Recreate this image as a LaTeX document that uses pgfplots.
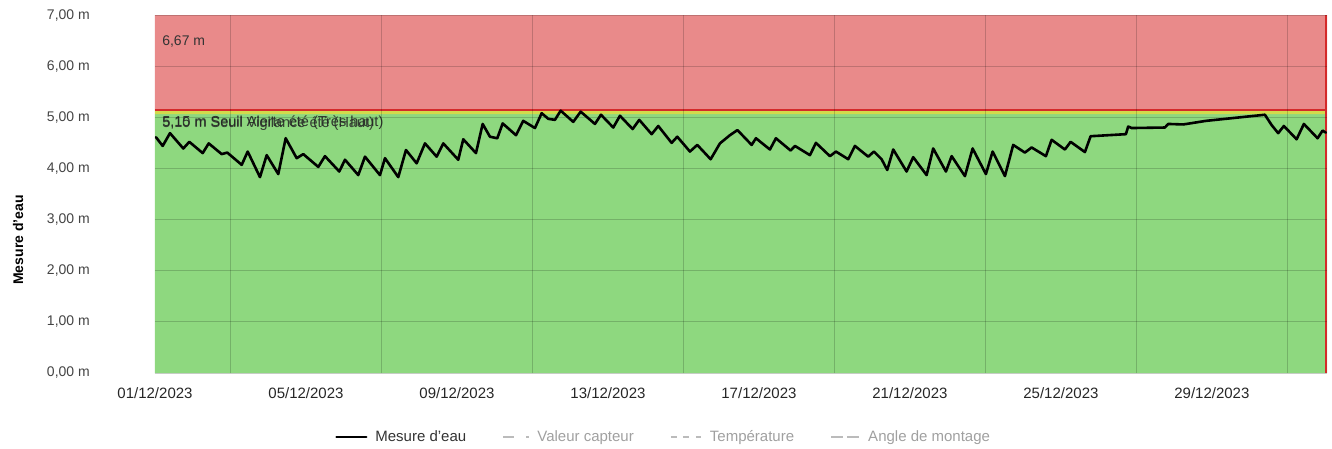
\documentclass[border=0pt]{standalone}
\usepackage{pgfplots}
\pgfplotsset{compat=1.18}
\usepackage{fontspec}
\setmainfont{Liberation Sans}
\definecolor{bandred}{HTML}{E98A8A}
\definecolor{bandgreen}{HTML}{8ED87F}
\definecolor{bandyellow}{HTML}{D2DA4C}
\definecolor{alertred}{HTML}{D42A2A}
\definecolor{txt}{HTML}{444444}
\definecolor{leggray}{HTML}{BBBBBB}
\definecolor{legtxt}{HTML}{A0A0A0}

\begin{document}
\begin{tikzpicture}
\begin{axis}[
  axis on top,
  at={(0pt,0pt)}, anchor=south west,
  scale only axis, width=1172pt, height=358pt,
  xmin=0, xmax=31.05, ymin=0, ymax=7,
  axis line style={draw=none},
  xtick={0,4,...,28},
  xticklabels={01/12/2023,05/12/2023,09/12/2023,13/12/2023,17/12/2023,21/12/2023,25/12/2023,29/12/2023},
  minor xtick={2,6,...,30},
  ytick={0,1,...,7},
  yticklabels={{0,00 m},{1,00 m},{2,00 m},{3,00 m},{4,00 m},{5,00 m},{6,00 m},{7,00 m}},
  xmajorgrids=false, xminorgrids=true, ymajorgrids=true,
  major tick length=0pt, minor tick length=0pt,
  grid style={black, opacity=0.18, line width=0.8pt},
  minor grid style={black, opacity=0.18, line width=0.8pt},
  xticklabel style={font=\fontsize{15}{17}\selectfont, text=black!85, anchor=north, inner sep=0pt, yshift=-14pt},
  yticklabel style={font=\fontsize{14}{16}\selectfont, text=txt, anchor=east, inner sep=0pt, xshift=-65pt},
  legend columns=4,
  legend style={at={(axis description cs:0.434,-0.179)}, anchor=center, draw=none, fill=none,
    font=\fontsize{15}{17}\selectfont,
    /tikz/every even column/.append style={column sep=34pt}},
  legend cell align=left,
]
% bands
\addplot[fill=bandgreen, draw=none, forget plot]
  coordinates {(0,0) (31.05,0) (31.05,5.06) (0,5.06) (0,0)};
\addplot[fill=bandyellow, draw=none, forget plot]
  coordinates {(0,5.06) (31.05,5.06) (31.05,5.15) (0,5.15) (0,5.06)};
\addplot[fill=bandred, draw=none, forget plot]
  coordinates {(0,5.15) (31.05,5.15) (31.05,7) (0,7) (0,5.15)};
% threshold lines
\addplot[alertred, line width=1.8pt, forget plot] coordinates {(0,5.15) (31.05,5.15)};
\addplot[alertred, line width=2pt, forget plot] coordinates {(31.02,0) (31.02,7)};
% labels
\node[anchor=west, text=black!80, font=\fontsize{14}{16}\selectfont] at (axis cs:0.1,6.49) {6,67 m};
\node[anchor=west, text=black!85, opacity=0.9, font=\fontsize{14.5}{16}\selectfont] at (axis cs:0.1,4.90) {5,15 m Seuil Alerte été (Très haut)};
\node[anchor=west, text=black!85, opacity=0.85, font=\fontsize{14.5}{16}\selectfont] at (axis cs:0.1,4.88) {5,10 m Seuil Vigilance été (Haut)};
% data
\addplot[black, line width=2.6pt, line join=round, line cap=round,
  legend image code/.code={\draw[black, line width=2.2pt] (0pt,0pt) -- (30pt,0pt); \path[draw=none] (0pt,0pt) -- (37pt,0pt);}] coordinates {
(0.026,4.61)(0.204,4.44)(0.397,4.69)(0.750,4.39)(0.909,4.52)(1.264,4.30)(1.423,4.49)(1.767,4.28)(1.915,4.31)(2.297,4.07)(2.456,4.33)(2.781,3.83)(2.959,4.26)(3.266,3.89)(3.462,4.59)(3.754,4.20)(3.928,4.28)(4.326,4.03)(4.503,4.24)(4.882,3.94)(5.033,4.17)(5.385,3.87)(5.563,4.23)(5.960,3.87)(6.093,4.20)(6.445,3.83)(6.649,4.36)(6.932,4.10)(7.152,4.49)(7.462,4.23)(7.637,4.49)(8.034,4.17)(8.167,4.57)(8.503,4.30)(8.681,4.87)(8.874,4.62)(9.068,4.59)(9.211,4.88)(9.563,4.65)(9.756,4.93)(10.066,4.79)(10.244,5.08)(10.419,4.97)(10.596,4.95)(10.747,5.13)(11.081,4.91)(11.277,5.11)(11.656,4.87)(11.815,5.05)(12.141,4.80)(12.318,5.03)(12.654,4.77)(12.829,4.95)(13.158,4.67)(13.333,4.83)(13.687,4.50)(13.836,4.62)(14.172,4.33)(14.366,4.46)(14.721,4.18)(14.967,4.49)(15.232,4.65)(15.430,4.75)(15.807,4.46)(15.921,4.59)(16.291,4.37)(16.450,4.59)(16.840,4.35)(16.954,4.44)(17.351,4.26)(17.510,4.50)(17.881,4.24)(18.040,4.33)(18.366,4.18)(18.543,4.44)(18.895,4.23)(19.046,4.33)(19.250,4.18)(19.399,3.97)(19.558,4.37)(19.912,3.94)(20.087,4.22)(20.442,3.87)(20.617,4.39)(20.954,3.94)(21.105,4.24)(21.457,3.85)(21.661,4.39)(22.013,3.89)(22.191,4.33)(22.517,3.85)(22.736,4.46)(23.046,4.31)(23.224,4.41)(23.603,4.24)(23.754,4.56)(24.106,4.37)(24.257,4.52)(24.636,4.32)(24.787,4.63)(25.722,4.67)(25.783,4.82)(25.873,4.79)(26.755,4.80)(26.843,4.87)(27.240,4.86)(27.841,4.93)(29.404,5.05)(29.581,4.85)(29.756,4.69)(29.907,4.83)(30.244,4.57)(30.437,4.87)(30.800,4.59)(30.932,4.74)(31.019,4.70)
};
\addlegendentry[text=black!80]{Mesure d'eau}
\addlegendimage{legend image code/.code={\draw[leggray, line width=2.2pt] (0pt,0pt) -- (11pt,0pt); \draw[leggray, line width=2.2pt] (23pt,0pt) -- (26pt,0pt); \path[draw=none] (0pt,0pt) -- (32pt,0pt);}}
\addlegendentry[text=legtxt]{Valeur capteur}
\addlegendimage{legend image code/.code={\draw[leggray, line width=2.2pt] (0pt,0pt) -- (6pt,0pt); \draw[leggray, line width=2.2pt] (12pt,0pt) -- (18pt,0pt); \draw[leggray, line width=2.2pt] (25pt,0pt) -- (30pt,0pt); \path[draw=none] (0pt,0pt) -- (37pt,0pt);}}
\addlegendentry[text=legtxt]{Température}
\addlegendimage{legend image code/.code={\draw[leggray, line width=2.2pt] (0pt,0pt) -- (12pt,0pt); \draw[leggray, line width=2.2pt] (16pt,0pt) -- (28pt,0pt); \path[draw=none] (0pt,0pt) -- (35pt,0pt);}}
\addlegendentry[text=legtxt]{Angle de montage}
\end{axis}
\node[rotate=90, font=\bfseries\fontsize{14}{16}\selectfont, text=black] at (-137pt,133pt) {Mesure d'eau};
\useasboundingbox (-155pt,-75pt) rectangle (1177pt,373pt);
\end{tikzpicture}
\end{document}
